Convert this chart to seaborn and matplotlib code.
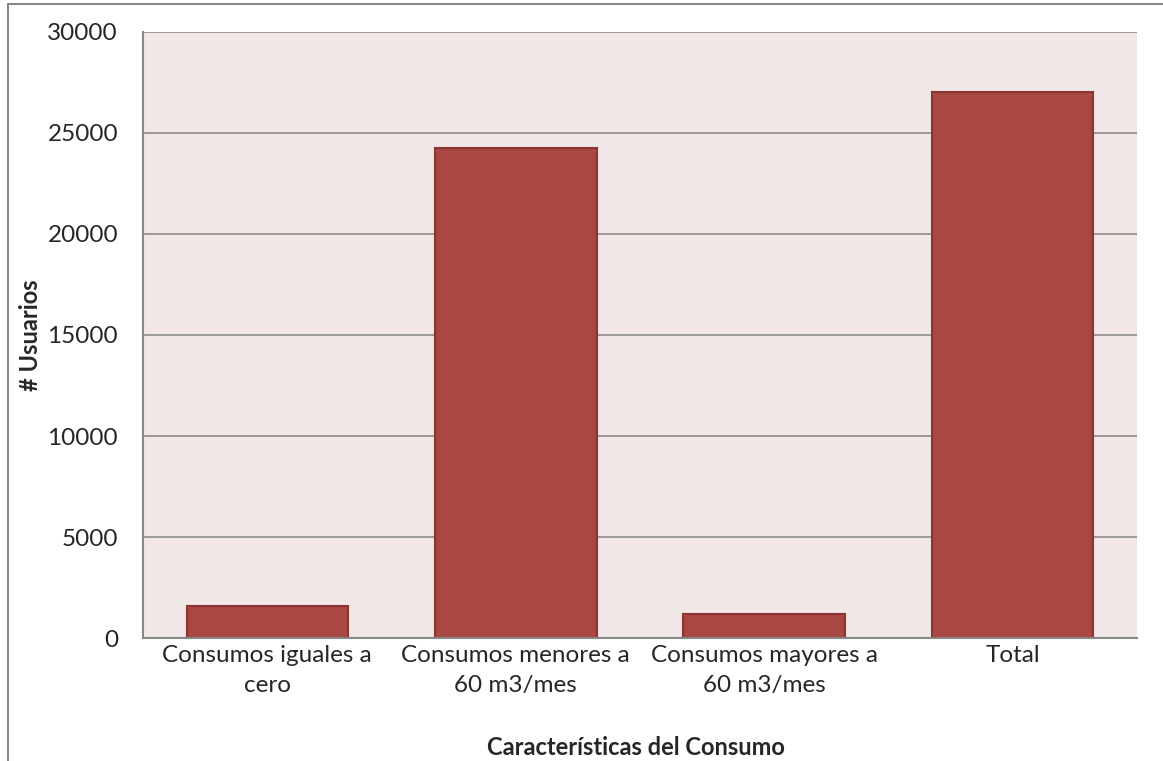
import matplotlib
matplotlib.use('Agg')
import matplotlib.pyplot as plt
import seaborn as sns
import pandas as pd
from matplotlib.lines import Line2D

categories = ['Consumos iguales a\ncero', 'Consumos menores a\n60 m3/mes',
              'Consumos mayores a\n60 m3/mes', 'Total']
usuarios = [1585, 24270, 1190, 27010]
yticks = [0, 5000, 10000, 15000, 20000, 25000, 30000]

df = pd.DataFrame({'categoria': categories, 'usuarios': usuarios})

sns.set_style('white')
plt.rcParams['font.family'] = ['Lato', 'DejaVu Sans']

fig = plt.figure(figsize=(11.63, 7.61), dpi=100)
ax = fig.add_axes([0.123, 0.1616, 0.8546, 0.7964])
ax.set_facecolor('#F2E7E7')

sns.barplot(data=df, x='categoria', y='usuarios', color='#AA4643',
            edgecolor='#8B3533', linewidth=1.5, width=0.65, saturation=1, ax=ax)

ax.set_ylim(0, 30000)
ax.set_yticks(yticks)
ax.set_yticklabels([str(t) for t in yticks], fontsize=17.5)
ax.tick_params(axis='x', labelsize=17.5, length=0, pad=5)
ax.tick_params(axis='y', length=0, pad=18)
for lbl in ax.get_xticklabels():
    lbl.set_linespacing(1.55)
ax.yaxis.grid(True, color='#8C8C8C', linewidth=1.2)
ax.set_axisbelow(True)
for s in ['top', 'right']:
    ax.spines[s].set_visible(False)
for s in ['left', 'bottom']:
    ax.spines[s].set_color('#888888')
    ax.spines[s].set_linewidth(1.5)

ax.set_xlabel('Características del Consumo', fontsize=17, fontweight='bold')
ax.set_ylabel('# Usuarios', fontsize=17, fontweight='bold')
ax.xaxis.label.set_va('center')
ax.yaxis.label.set_va('center')
ax.xaxis.set_label_coords(0.496, -0.18)
ax.yaxis.set_label_coords(-0.1137, 0.5)

# outer chart frame (top and left edges visible)
fig.add_artist(Line2D([8 / 1163, 1], [1 - 4 / 761, 1 - 4 / 761], transform=fig.transFigure,
                      color='#888888', linewidth=1.5))
fig.add_artist(Line2D([8 / 1163, 8 / 1163], [0, 1 - 4 / 761], transform=fig.transFigure,
                      color='#888888', linewidth=1.5))

fig.savefig('out.png', dpi=100)
